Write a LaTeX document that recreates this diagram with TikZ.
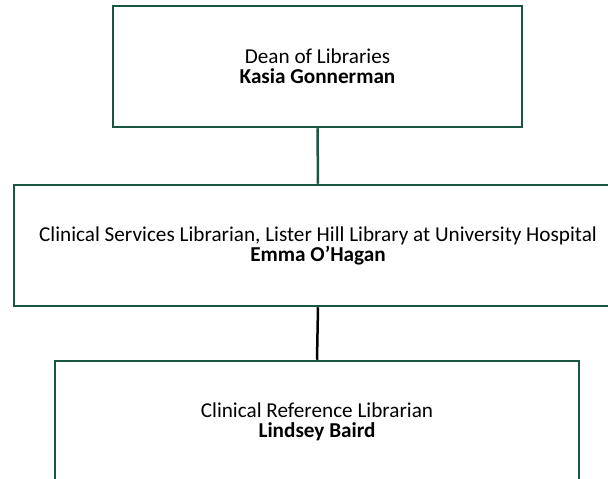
\documentclass[tikz,border=0pt]{standalone}
\usepackage{fontspec}
\setmainfont{Carlito}
\usepackage{tikz}
\definecolor{boxgreen}{RGB}{27,87,64}

\begin{document}
\begin{tikzpicture}[x=1pt, y=-1pt,
    orgbox/.style={draw=boxgreen, line width=2.5pt, minimum height=121pt, inner sep=0pt,
        align=center, font=\fontsize{21.2}{20}\selectfont},
    link/.style={line width=2.5pt}]
            \useasboundingbox (0,0) rectangle (608,479);
            \clip (0,0) rectangle (608,479);

            \node (dean) at (317.5, 66.5) [orgbox, minimum width=409pt] {Dean of Libraries\\\textbf{Kasia Gonnerman}};
            \node (clin) at (318, 245.5) [orgbox, minimum width=608pt] {Clinical Services Librarian, Lister Hill Library at University Hospital\\\textbf{Emma O’Hagan}};
            \node (ref) at (317, 421.5) [orgbox, minimum width=524pt] {Clinical Reference Librarian\\\textbf{Lindsey Baird}};

            \draw [link, boxgreen] (dean.south) -- (clin.north);
            \draw [link, black] (clin.south) -- (ref.north);
        \end{tikzpicture}
\end{document}
